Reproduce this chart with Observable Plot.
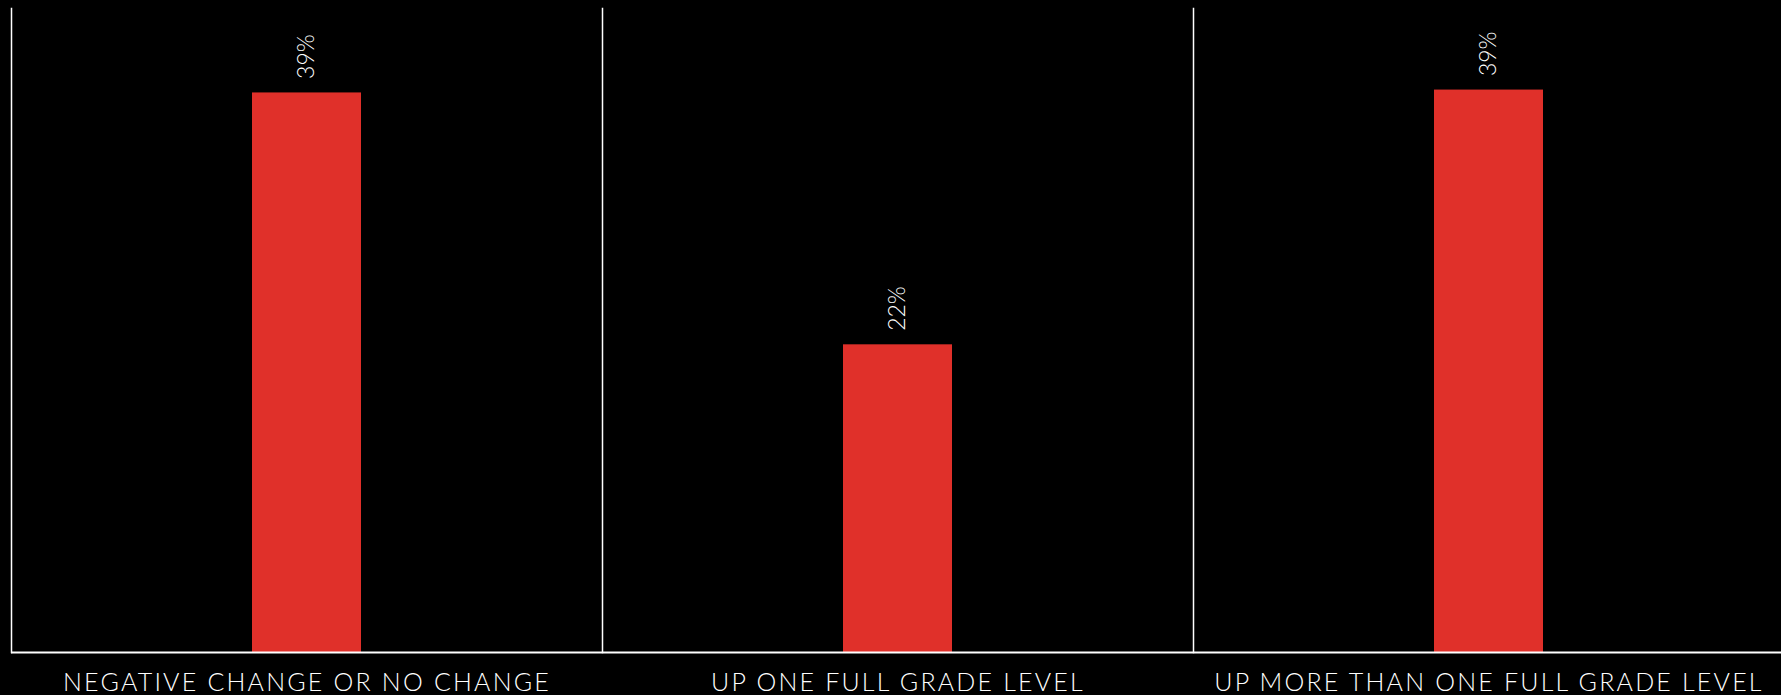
<!DOCTYPE html>
<html>
<head>
<meta charset="utf-8">
<script src="https://cdn.jsdelivr.net/npm/d3@7"></script>
<script src="https://cdn.jsdelivr.net/npm/@observablehq/plot@0.6"></script>
<style>
  html, body { margin: 0; padding: 0; background: #000; }
  #chart svg { display: block; }
  #chart g[aria-label="fx-axis tick label"] text { letter-spacing: 2.2px; }
</style>
</head>
<body>
<div id="chart"></div>
<script>
const categories = ["NEGATIVE CHANGE OR NO CHANGE", "UP ONE FULL GRADE LEVEL", "UP MORE THAN ONE FULL GRADE LEVEL"];
const shares = [39.1, 21.5, 39.3];
const shareLabels = ["39%", "22%", "39%"];

const data = categories.map((c, i) => ({category: c, share: shares[i], label: shareLabels[i]}));
const bandKey = () => "bar";

const chart = Plot.plot({
  width: 1781,
  height: 695,
  marginLeft: 11,
  marginRight: 0,
  marginTop: 8,
  marginBottom: 43,
  style: {background: "#000", color: "#fff", fontFamily: "Lato, 'Open Sans', sans-serif"},
  fx: {domain: categories, padding: 0, range: [11, 1784], label: null},
  x: {domain: ["bar"], paddingInner: 0.816, paddingOuter: 0.408, axis: null},
  y: {domain: [0, 45], axis: null},
  marks: [
    Plot.frame({anchor: "left", stroke: "#fff", strokeWidth: 1.5}),
    Plot.barY(data, {fx: "category", x: bandKey, y: "share", fill: "#e0302a"}),
    Plot.ruleY([0], {stroke: "#fff", strokeWidth: 2}),
    Plot.text(data, {
      fx: "category", x: bandKey, y: "share", text: "label",
      rotate: -90, textAnchor: "start", lineAnchor: "middle",
      dy: -14, fill: "#fff", fontSize: 23, fontWeight: 300
    }),
    Plot.axisFx({anchor: "bottom", tickSize: 0, tickPadding: 21, fontSize: 25, fontWeight: 300, label: null, fill: "#fff"})
  ]
});
document.getElementById("chart").appendChild(chart);
</script>
</body>
</html>
